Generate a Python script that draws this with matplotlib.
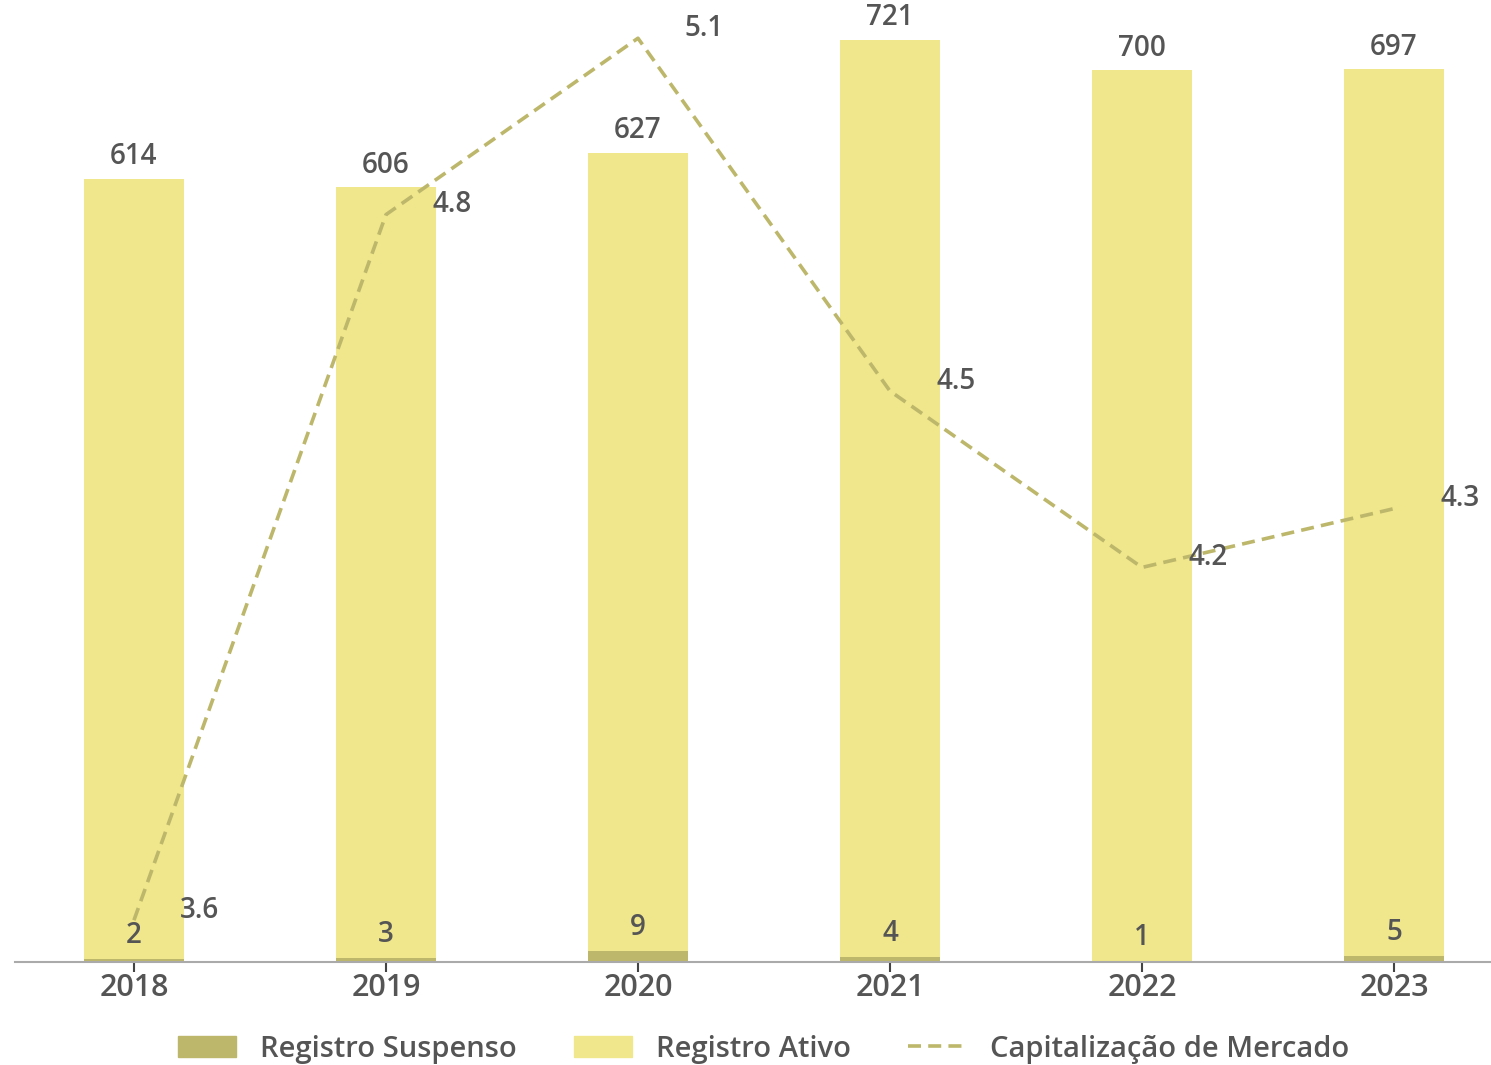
import matplotlib.pyplot as plt
from matplotlib.patches import Patch
from matplotlib.lines import Line2D
import numpy as np

anos = ["2018", "2019", "2020", "2021", "2022", "2023"]
registro_suspenso = [2, 3, 9, 4, 1, 5]
registro_ativo = [614, 606, 627, 721, 700, 697]
capitalizacao = [3.6, 4.8, 5.1, 4.5, 4.2, 4.3]

cor_suspenso = "#BDB76B"
cor_ativo = "#F0E68C"
cor_texto = "#555555"

plt.rcParams["font.family"] = ["Open Sans", "DejaVu Sans"]

fig = plt.figure(figsize=(14.91, 10.65), dpi=100)
ax = fig.add_axes([15 / 1491, 103 / 1065, 1476 / 1491, 962 / 1065])
x = np.arange(len(anos))
largura = 0.40

ax.bar(x, registro_suspenso, largura, color=cor_suspenso)
ax.bar(x, registro_ativo, largura, bottom=registro_suspenso, color=cor_ativo)

for xi, s, a in zip(x, registro_suspenso, registro_ativo):
    ax.annotate(str(a), (xi, s + a), xytext=(0, 5.5), textcoords="offset points",
                ha="center", va="bottom", fontsize=20, color=cor_texto, weight="semibold")
    ax.annotate(str(s), (xi, s), xytext=(0, 6.5), textcoords="offset points",
                ha="center", va="bottom", fontsize=20, color=cor_texto, weight="semibold")

ax.set_xlim(-0.472, 5.385)
ax.set_ylim(0, 756.4)
ax.set_xticks(x)
ax.set_xticklabels(anos, fontsize=22, color=cor_texto, weight="semibold")
ax.tick_params(axis="x", length=7, width=1.5, color="#444444", pad=1)
ax.set_yticks([])
for lado in ["top", "right", "left"]:
    ax.spines[lado].set_visible(False)
ax.spines["bottom"].set_color("#aaaaaa")
ax.spines["bottom"].set_linewidth(1.5)

ax2 = ax.twinx()
ax2.plot(x, capitalizacao, color=cor_suspenso, lw=2.6, dashes=[3.6, 2.0])
for xi, v in zip(x, capitalizacao):
    ax2.annotate(f"{v:.1f}", (xi, v), xytext=(47.5, 7), textcoords="offset points",
                 ha="center", va="center", fontsize=20, color=cor_texto, weight="semibold")
ax2.set_ylim(3.529, 5.165)
ax2.set_yticks([])
for lado in ["top", "right", "left", "bottom"]:
    ax2.spines[lado].set_visible(False)

itens = [Patch(color=cor_suspenso, label="Registro Suspenso"),
         Patch(color=cor_ativo, label="Registro Ativo"),
         Line2D([0], [0], color=cor_suspenso, lw=2.6, dashes=[3.6, 2.0],
                label="Capitalização de Mercado")]
leg = fig.legend(handles=itens, loc="center", bbox_to_anchor=(0.512, 16 / 1065),
                 ncol=3, frameon=False, handlelength=2.0,
                 handleheight=0.7, columnspacing=1.95, handletextpad=0.82,
                 prop={"size": 21, "weight": "semibold"})
for t in leg.get_texts():
    t.set_color(cor_texto)

fig.savefig("out.png", dpi=100)
